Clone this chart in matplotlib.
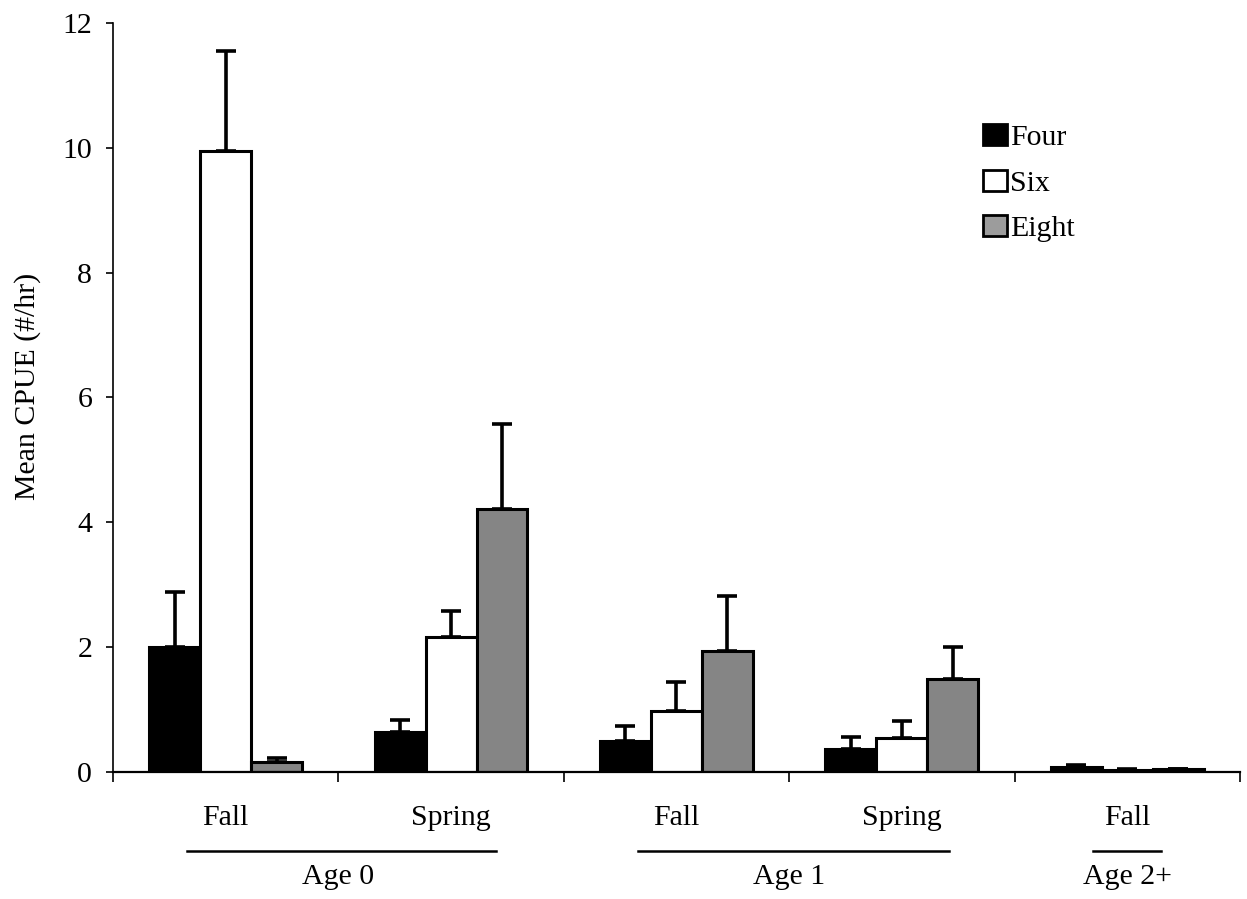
import numpy as np
import matplotlib
matplotlib.use('Agg')
import matplotlib.pyplot as plt
from matplotlib.patches import Patch

# mean CPUE by season / age class for each net type
seasons = ['Fall', 'Spring', 'Fall', 'Spring', 'Fall']
age_labels = ['Age 0', 'Age 1', 'Age 2+']
age_spans = [(-0.17, 1.2), (1.83, 3.21), (3.85, 4.15)]
age_centers = [0.5, 2.5, 4.0]

four = [2.00, 0.64, 0.50, 0.37, 0.07]
four_se = [0.88, 0.19, 0.23, 0.18, 0.03]
six = [9.95, 2.16, 0.97, 0.54, 0.03]
six_se = [1.60, 0.41, 0.47, 0.28, 0.01]
eight = [0.16, 4.22, 1.94, 1.48, 0.04]
eight_se = [0.06, 1.35, 0.87, 0.52, 0.01]

series = [('Four', four, four_se, 'black', 'black'),
          ('Six', six, six_se, 'white', 'white'),
          ('Eight', eight, eight_se, '#858585', '#9c9c9c')]

plt.rcParams.update({'font.family': 'serif',
                     'font.serif': ['Liberation Serif', 'DejaVu Serif'],
                     'font.size': 21.5})

fig = plt.figure(figsize=(12.47, 8.99), dpi=100)
ax = fig.add_axes([0.0906, 0.1416, 0.9037, 0.8325])

x = np.arange(len(seasons))
width = 0.226
offsets = [-width, 0.0, width]

handles = []
for (name, vals, se, color, key_color), off in zip(series, offsets):
    ax.bar(x + off, vals, width, color=color, edgecolor='black', linewidth=2.2, zorder=2)
    ax.errorbar(x + off, vals, yerr=[np.zeros(len(vals)), se], fmt='none',
                ecolor='black', elinewidth=2.6, capsize=7, capthick=2.6, zorder=3)
    handles.append(Patch(facecolor=key_color, edgecolor='black', linewidth=2.0, label=name))

ax.set_xlim(-0.5, len(seasons) - 0.5)
ax.set_ylim(0, 12)
ax.set_yticks(np.arange(0, 13, 2))
ax.set_xticks(np.arange(-0.5, len(seasons), 1.0))
ax.set_xticklabels([])
ax.tick_params(axis='y', direction='out', length=5, width=1.2, pad=10)
ax.tick_params(axis='x', direction='out', length=7, width=1.2)

for side in ['top', 'right']:
    ax.spines[side].set_visible(False)
ax.spines['left'].set_linewidth(1.2)
ax.spines['bottom'].set_linewidth(1.6)

ax.set_ylabel('Mean CPUE (#/hr)')
ax.yaxis.set_label_coords(-0.064, 0.515)

# season labels, age underlines and age labels below the axis
trans = ax.get_xaxis_transform()
for xi, s in zip(x, seasons):
    ax.text(xi, -0.062, s, transform=trans, ha='center', va='center')
for (x0, x1), xc, lab in zip(age_spans, age_centers, age_labels):
    ax.plot([x0, x1], [-0.106, -0.106], color='black', lw=1.8,
            transform=trans, clip_on=False)
    ax.text(xc, -0.141, lab, transform=trans, ha='center', va='center')

ax.legend(handles=handles, loc='upper left', bbox_to_anchor=(0.788, 0.862),
          bbox_transform=fig.transFigure, frameon=False, handlelength=0.83,
          handleheight=0.7, handletextpad=0.08, labelspacing=0.63,
          borderpad=0, borderaxespad=0)

fig.savefig('out.png', dpi=100)
